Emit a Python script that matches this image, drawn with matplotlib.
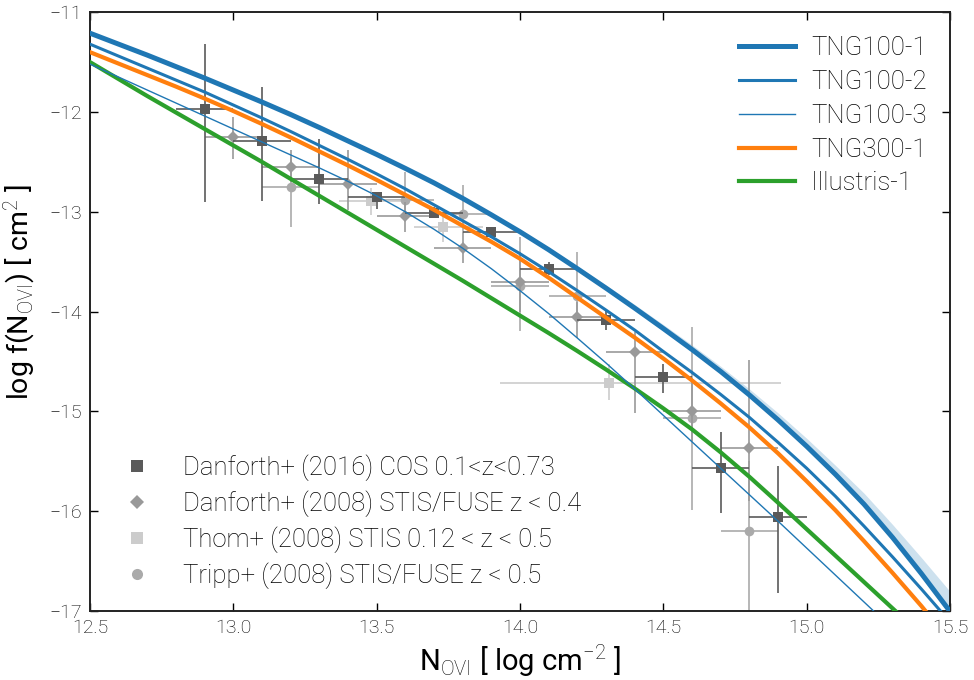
import numpy as np
import matplotlib
matplotlib.use("Agg")
import matplotlib.pyplot as plt
from matplotlib.lines import Line2D

plt.rcParams['font.family'] = ['Roboto', 'DejaVu Sans']
plt.rcParams['font.weight'] = 'light'
plt.rcParams['mathtext.fontset'] = 'custom'
plt.rcParams['mathtext.rm'] = 'Roboto:light'
plt.rcParams['mathtext.it'] = 'Roboto:light'

# ------------------------------------------------------------
# Simulation column density distributions (log N_OVI grid)
# ------------------------------------------------------------
n_grid = [12.5, 12.6, 12.7, 12.8, 12.9, 13.0, 13.1, 13.2, 13.3, 13.4,
          13.5, 13.6, 13.7, 13.8, 13.9, 14.0, 14.1, 14.2, 14.3, 14.4,
          14.5, 14.6, 14.7, 14.8, 14.9, 15.0, 15.1, 15.2, 15.3, 15.4, 15.5]

tng100_1 = [-11.21, -11.32, -11.43, -11.545, -11.66, -11.78, -11.90, -12.025,
            -12.155, -12.29, -12.425, -12.565, -12.71, -12.865, -13.03, -13.20,
            -13.38, -13.57, -13.765, -13.965, -14.17, -14.38, -14.60, -14.835,
            -15.085, -15.35, -15.63, -15.93, -16.265, -16.625, -17.005]
# scatter band around TNG100-1
tng100_1_down = [0.01, 0.01, 0.01, 0.01, 0.01, 0.01, 0.01, 0.01, 0.01, 0.01,
                 0.01, 0.01, 0.01, 0.01, 0.01, 0.01, 0.015, 0.015, 0.015, 0.015,
                 0.02, 0.02, 0.02, 0.02, 0.025, 0.025, 0.025, 0.03, 0.03, 0.03,
                 0.035]
tng100_1_up = [0.01, 0.01, 0.01, 0.01, 0.01, 0.01, 0.01, 0.01, 0.01, 0.01,
               0.01, 0.01, 0.012, 0.015, 0.018, 0.02, 0.024, 0.028, 0.032, 0.036,
               0.04, 0.046, 0.052, 0.06, 0.07, 0.08, 0.09, 0.11, 0.13, 0.16,
               0.20]

tng100_2 = [-11.32, -11.44, -11.56, -11.68, -11.80, -11.93, -12.06, -12.195,
            -12.335, -12.475, -12.62, -12.77, -12.93, -13.09, -13.25, -13.42,
            -13.60, -13.79, -13.985, -14.185, -14.40, -14.61, -14.83, -15.06,
            -15.31, -15.57, -15.85, -16.15, -16.46, -16.78, -17.11]

tng100_3 = [-11.52, -11.65, -11.78, -11.91, -12.04, -12.17, -12.30, -12.43,
            -12.56, -12.695, -12.84, -13.00, -13.175, -13.365, -13.57, -13.79,
            -14.02, -14.265, -14.515, -14.775, -15.04, -15.305, -15.57, -15.835,
            -16.10, -16.37, -16.64, -16.91, -17.18, -17.45, -17.72]

tng300_1 = [-11.40, -11.515, -11.63, -11.745, -11.865, -11.99, -12.12, -12.255,
            -12.395, -12.535, -12.68, -12.83, -12.98, -13.14, -13.30, -13.47,
            -13.66, -13.86, -14.06, -14.26, -14.47, -14.69, -14.92, -15.16,
            -15.42, -15.70, -15.99, -16.30, -16.62, -16.95, -17.30]

illustris_1 = [-11.50, -11.67, -11.84, -12.005, -12.17, -12.335, -12.50, -12.67,
               -12.84, -13.01, -13.18, -13.35, -13.52, -13.69, -13.865, -14.04,
               -14.215, -14.395, -14.58, -14.77, -14.97, -15.18, -15.41, -15.655,
               -15.915, -16.18, -16.445, -16.71, -16.975, -17.24, -17.51]

# ------------------------------------------------------------
# Observational data
# ------------------------------------------------------------
d16_x = [12.9, 13.1, 13.3, 13.5, 13.7, 13.9, 14.1, 14.3, 14.5, 14.7, 14.9]
d16_y = [-11.97, -12.29, -12.67, -12.85, -13.01, -13.20, -13.57, -14.08,
         -14.66, -15.57, -16.06]
d16_top = [-11.32, -11.75, -12.27, -12.80, -12.95, -13.15, -13.50, -13.98,
           -14.52, -15.21, -15.55]
d16_bot = [-12.90, -12.89, -12.92, -12.97, -13.05, -13.26, -13.63, -14.18,
           -14.82, -16.02, -16.82]

d08_x = [13.0, 13.2, 13.4, 13.6, 13.8, 14.0, 14.2, 14.4, 14.6, 14.8]
d08_y = [-12.25, -12.55, -12.72, -13.04, -13.36, -13.70, -14.05, -14.40,
         -15.00, -15.37]
d08_top = [-12.05, -12.38, -12.38, -12.90, -13.20, -13.40, -13.90, -14.20,
           -14.70, -14.48]
d08_bot = [-12.47, -12.70, -12.98, -13.20, -13.51, -14.00, -14.26, -15.02,
           -15.30, -15.90]

thom_x = [13.48, 13.73, 14.31]
thom_y = [-12.89, -13.15, -14.72]
thom_top = [-12.76, -12.98, -14.52]
thom_bot = [-13.03, -13.30, -14.89]
thom_left = [13.37, 13.63, 13.93]
thom_right = [13.59, 13.87, 14.91]

tripp_x = [13.2, 13.6, 13.8, 14.0, 14.2, 14.6, 14.8]
tripp_y = [-12.75, -12.88, -13.02, -13.74, -13.84, -15.07, -16.20]
tripp_top = [-12.45, -12.60, -12.73, -13.25, -13.40, -14.15, -15.50]
tripp_bot = [-13.15, -13.00, -13.20, -14.19, -14.05, -15.99, -17.50]

# ============================================================
# Plot
# ============================================================
fig = plt.figure(figsize=(9.74, 6.8), dpi=100)
ax = fig.add_axes([0.0924, 0.1015, 0.8830, 0.8805])

c_blue = '#1f77b4'
ax.fill_between(n_grid,
                np.array(tng100_1) - np.array(tng100_1_down),
                np.array(tng100_1) + np.array(tng100_1_up),
                color=c_blue, alpha=0.22, lw=0, zorder=1)


def obs(x, y, top, bot, xl, xr, color, marker, ms, z):
    x = np.array(x)
    y = np.array(y)
    yerr = [y - np.array(bot), np.array(top) - y]
    xerr = [x - np.array(xl), np.array(xr) - x]
    ax.errorbar(x, y, yerr=yerr, xerr=xerr, fmt=marker, color=color,
                ms=ms, mew=0, elinewidth=1.2, capsize=0, zorder=z)


obs(tripp_x, tripp_y, tripp_top, tripp_bot,
    np.array(tripp_x) - 0.1, np.array(tripp_x) + 0.1, '#aaaaaa', 'o', 7, 2)
obs(thom_x, thom_y, thom_top, thom_bot, thom_left, thom_right,
    '#cccccc', 's', 7, 2)
obs(d08_x, d08_y, d08_top, d08_bot,
    np.array(d08_x) - 0.1, np.array(d08_x) + 0.1, '#999999', 'D', 6.5, 3)
obs(d16_x, d16_y, d16_top, d16_bot,
    np.array(d16_x) - 0.1, np.array(d16_x) + 0.1, '#5a5a5a', 's', 7.5, 4)

sim_lines = []
sim_lines += ax.plot(n_grid, tng100_1, color=c_blue, lw=3.6, label='TNG100-1', zorder=6)
sim_lines += ax.plot(n_grid, tng100_2, color=c_blue, lw=2.2, label='TNG100-2', zorder=6)
sim_lines += ax.plot(n_grid, tng100_3, color=c_blue, lw=1.0, label='TNG100-3', zorder=6)
sim_lines += ax.plot(n_grid, tng300_1, color='#ff7f0e', lw=3.0, label='TNG300-1', zorder=5)
sim_lines += ax.plot(n_grid, illustris_1, color='#2ca02c', lw=3.0, label='Illustris-1', zorder=5)

ax.set_xlim(12.5, 15.5)
ax.set_ylim(-17, -11)
ax.set_xticks(np.arange(12.5, 15.51, 0.5))
ax.set_yticks(np.arange(-17, -10.9, 1))
ax.tick_params(direction='in', top=True, right=True, length=6, width=1,
               labelsize=14, pad=6)
for s in ax.spines.values():
    s.set_linewidth(1.4)
    s.set_color('#222222')

ax.set_xlabel(r'N$_{\rm OVI}$ [ log cm$^{-2}$ ]', fontsize=21, labelpad=4)
ax.set_ylabel(r'log f(N$_{\rm OVI}$) [ cm$^2$ ]', fontsize=20.5)
ax.yaxis.set_label_coords(-0.06, 0.533)

leg1 = ax.legend(handles=sim_lines, loc='upper right', frameon=False,
                 fontsize=18.5, handlelength=2.2, labelspacing=0.38,
                 borderaxespad=0, handletextpad=0.62,
                 bbox_to_anchor=(0.985, 0.977))
ax.add_artist(leg1)

obs_handles = [
    Line2D([0], [0], ls='none', marker='s', ms=8, mew=0, color='#5a5a5a',
           label='Danforth+ (2016) COS 0.1<z<0.73'),
    Line2D([0], [0], ls='none', marker='D', ms=7, mew=0, color='#999999',
           label='Danforth+ (2008) STIS/FUSE z < 0.4'),
    Line2D([0], [0], ls='none', marker='s', ms=8, mew=0, color='#cccccc',
           label='Thom+ (2008) STIS 0.12 < z < 0.5'),
    Line2D([0], [0], ls='none', marker='o', ms=8, mew=0, color='#aaaaaa',
           label='Tripp+ (2008) STIS/FUSE z < 0.5'),
]
ax.legend(handles=obs_handles, loc='lower left', frameon=False, fontsize=18.5,
          labelspacing=0.36, borderaxespad=0, handlelength=1.0,
          handletextpad=1.27, bbox_to_anchor=(0.028, 0.02))

fig.savefig('out.png', dpi=100)
